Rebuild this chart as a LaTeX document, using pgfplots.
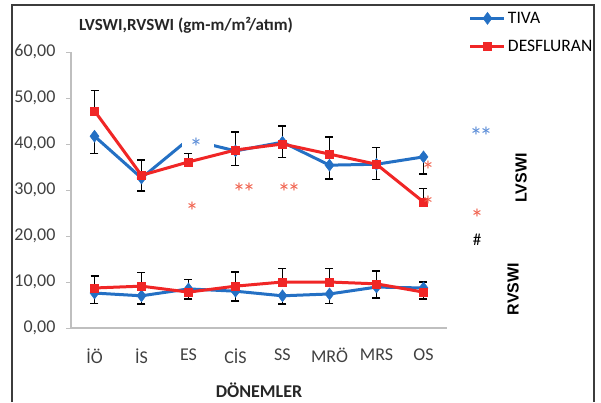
\documentclass[border=0pt]{standalone}
\usepackage{fontspec}
\setmainfont{Carlito}
\newfontfamily\arialf{Liberation Sans}
\usepackage{pgfplots}
\pgfplotsset{compat=1.18}
\definecolor{tblue}{RGB}{36,112,196}
\definecolor{dred}{RGB}{240,38,38}
\definecolor{sblue}{RGB}{90,140,215}
\definecolor{sred}{RGB}{240,95,75}
\definecolor{axgray}{RGB}{191,191,191}
\definecolor{framec}{RGB}{60,60,60}
\newcommand{\fs}{\fontsize{18}{21}\selectfont}
\newcommand{\an}[4]{\node[anchor=center, inner sep=0pt, text=#3, font=\fontsize{26}{28}\selectfont] at (#1,-#2) {\raisebox{-0.55em}[0.2em][0.2em]{#4}};}
\newcommand{\dd}{*\kern-3pt*}
\begin{document}
\begin{tikzpicture}[x=1pt,y=1pt]
\useasboundingbox (0,0) rectangle (601,-402);
\begin{axis}[
  at={(71pt,-328pt)}, anchor=south west,
  scale only axis, width=376pt, height=276pt,
  xmin=-0.5, xmax=7.5, ymin=0, ymax=60,
  axis x line*=bottom, axis y line*=left,
  axis line style={draw=axgray, line width=1.2pt, -},
  xtick={0,...,7}, xticklabels={İÖ,İS,ES,CİS,SS,MRÖ,MRS,OS},
  x tick style={draw=none},
  ytick={0,10,...,60},
  yticklabel={\pgfmathprintnumber[fixed,fixed zerofill,precision=2,use comma]{\tick}},
  /pgf/number format/assume math mode=true,
  y tick style={draw=axgray, line width=1pt},
  tick align=outside, major tick length=5pt,
  ticklabel style={font=\fs, text=black!75},
  xticklabel style={yshift=-12pt},
  yticklabel style={xshift=-7pt},
  clip=false,
  legend style={at={(1.05,1.16)}, anchor=north west, draw=none, fill=none, font=\fontsize{17.5}{20}\selectfont, row sep=11pt},
  legend cell align=left,
  legend image code/.code={\draw[mark repeat=2,mark phase=2,#1] plot coordinates {(0pt,0pt) (17pt,0pt) (34pt,0pt)};},
  every axis plot/.append style={line width=3pt},
  error bars/error bar style={black, line width=1.3pt},
  error bars/error mark options={black, rotate=90, mark size=4pt, line width=1.3pt},
]
% TIVA LVSWI
\addplot[tblue, mark=diamond*, mark size=6pt, mark options={solid, line width=0.5pt},
  error bars/.cd, y dir=minus, y explicit] coordinates {
  (0,41.7) +- (0,3.7)
  (1,32.6) +- (0,2.8)
  (2,41.0) +- (0,0)
  (3,38.5) +- (0,3.1)
  (4,40.4) +- (0,3.4)
  (5,35.4) +- (0,3.0)
  (6,35.6) +- (0,3.3)
  (7,37.2) +- (0,3.7)
};
\addlegendentry{TIVA}
% TIVA RVSWI
\addplot[tblue, mark=diamond*, mark size=6pt, mark options={solid, line width=0.5pt}, forget plot,
  error bars/.cd, y dir=minus, y explicit] coordinates {
  (0,7.6) +- (0,2.2)
  (1,7.0) +- (0,1.8)
  (2,8.5) +- (0,2.2)
  (3,8.0) +- (0,2.1)
  (4,7.0) +- (0,1.8)
  (5,7.4) +- (0,2.0)
  (6,8.9) +- (0,2.4)
  (7,8.7) +- (0,2.4)
};
% DESFLURAN LVSWI
\addplot[dred, mark=square*, mark size=4pt, mark options={solid, line width=0.5pt},
  error bars/.cd, y dir=plus, y explicit] coordinates {
  (0,47.2) +- (0,4.5)
  (1,33.2) +- (0,3.3)
  (2,36.1) +- (0,1.9)
  (3,38.7) +- (0,3.9)
  (4,40.0) +- (0,3.9)
  (5,37.8) +- (0,3.7)
  (6,35.6) +- (0,3.7)
  (7,27.4) +- (0,3.0)
};
\addlegendentry{DESFLURAN}
% DESFLURAN RVSWI
\addplot[dred, mark=square*, mark size=4pt, mark options={solid, line width=0.5pt}, forget plot,
  error bars/.cd, y dir=plus, y explicit] coordinates {
  (0,8.7) +- (0,2.6)
  (1,9.1) +- (0,2.9)
  (2,7.8) +- (0,2.8)
  (3,9.1) +- (0,3.1)
  (4,10.0) +- (0,3.0)
  (5,10.0) +- (0,3.0)
  (6,9.6) +- (0,2.8)
  (7,7.8) +- (0,2.2)
};
\end{axis}
% frame
\draw[framec, line width=1.3pt] (12,-402) -- (12,-5) -- (594,-5) -- (594,-402);
% title and labels
\node[anchor=base, font=\bfseries\fontsize{17}{20}\selectfont, text=black!85] at (186,-30) {LVSWI,RVSWI (gm-m/m²/atım)};
\node[anchor=base, font=\bfseries\fs, text=black!85] at (259,-397) {DÖNEMLER};
\node[rotate=90, font=\arialf\bfseries\fontsize{16}{19}\selectfont] at (521,-178) {LVSWI};
\node[rotate=90, font=\arialf\bfseries\fontsize{16}{19}\selectfont] at (513,-289) {RVSWI};
% gap in TIVA line behind the asterisk
\fill[white] (182,-130) rectangle (214,-148);
\an{196}{142}{sblue}{*}
\an{192}{206}{sred}{*}
\an{244}{187}{sred}{\dd}
\an{289}{187}{sred}{\dd}
\an{428}{165}{sred}{*}
\an{428}{200}{sred}{*}
\an{481}{131}{sblue}{\dd}
\an{477}{213}{sred}{*}
\node[anchor=base, inner sep=0pt, font=\fontsize{17}{20}\selectfont] at (477,-245) {\#};
\end{tikzpicture}
\end{document}
